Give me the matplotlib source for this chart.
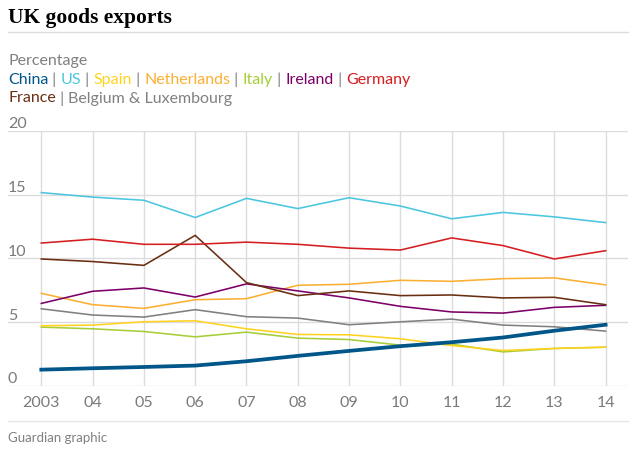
import matplotlib
matplotlib.use("Agg")
import matplotlib.pyplot as plt

years = [2003, 2004, 2005, 2006, 2007, 2008, 2009, 2010, 2011, 2012, 2013, 2014]
year_labels = ["2003", "04", "05", "06", "07", "08", "09", "10", "11", "12", "13", "14"]

china = [1.28, 1.39, 1.49, 1.60, 1.94, 2.36, 2.75, 3.12, 3.43, 3.80, 4.33, 4.80]
us = [15.15, 14.8, 14.55, 13.2, 14.7, 13.9, 14.75, 14.1, 13.1, 13.6, 13.25, 12.8]
spain = [4.72, 4.77, 5.03, 5.11, 4.48, 4.04, 4.01, 3.70, 3.17, 2.78, 2.94, 3.04]
netherlands = [7.26, 6.37, 6.08, 6.76, 6.84, 7.89, 7.97, 8.28, 8.20, 8.41, 8.47, 7.92]
italy = [4.61, 4.48, 4.27, 3.85, 4.22, 3.75, 3.64, 3.20, 3.28, 2.67, 2.94, 3.04]
ireland = [6.47, 7.42, 7.68, 6.97, 8.00, 7.45, 6.90, 6.24, 5.80, 5.71, 6.16, 6.32]
germany = [11.2, 11.5, 11.1, 11.1, 11.27, 11.1, 10.8, 10.65, 11.6, 11.0, 9.95, 10.6]
france = [9.95, 9.75, 9.45, 11.8, 8.10, 7.08, 7.45, 7.08, 7.13, 6.90, 6.95, 6.37]
belgium_lux = [6.05, 5.56, 5.40, 5.98, 5.43, 5.32, 4.80, 5.03, 5.24, 4.77, 4.64, 4.30]

series_names = ["China", "US", "Spain", "Netherlands", "Italy", "Ireland", "Germany",
                "France", "Belgium & Luxembourg"]
y_ticks = [0, 5, 10, 15, 20]

colors = {
    "China": "#005689",
    "US": "#4bc6df",
    "Spain": "#ffd21f",
    "Netherlands": "#fbb033",
    "Italy": "#a6ce39",
    "Ireland": "#7d0068",
    "Germany": "#d61d20",
    "France": "#6a2e12",
    "Belgium & Luxembourg": "#808080",
}
data = {
    "China": china, "US": us, "Spain": spain, "Netherlands": netherlands,
    "Italy": italy, "Ireland": ireland, "Germany": germany, "France": france,
    "Belgium & Luxembourg": belgium_lux,
}

plt.rcParams["font.family"] = ["Lato", "DejaVu Sans"]

W, H = 644, 451
fig = plt.figure(figsize=(W / 100, H / 100), dpi=100)

def fx(px):
    return px / W

def fy(py):
    return 1 - py / H

ax = fig.add_axes([fx(8), fy(386), fx(628) - fx(8), fy(130.7) - fy(386)])
ax.set_xlim(2002.351, 2014.437)
ax.set_ylim(0, 20)
for s in ax.spines.values():
    s.set_visible(False)

grid_c = "#dcdcdc"
for yv in y_ticks:
    ax.axhline(yv, color=grid_c, lw=1.0, zorder=0)
for xv in years:
    ax.plot([xv, xv], [0, 20], color=grid_c, lw=1.0, zorder=0)

order = ["Belgium & Luxembourg", "Italy", "Spain", "Netherlands", "Ireland",
         "France", "Germany", "US", "China"]
for name in order:
    lw = 2.7 if name == "China" else 1.15
    ax.plot(years, data[name], color=colors[name], lw=lw, clip_on=False,
            solid_joinstyle="miter", zorder=3)

tick_c = "#7a7a7a"
ax.set_xticks(years)
ax.set_xticklabels(year_labels)
ax.set_yticks([])
ax.tick_params(axis="x", length=0, pad=7, labelsize=11.5, colors=tick_c)

for yv in y_ticks:
    ax.text(0, yv + 0.2, str(yv), transform=ax.get_yaxis_transform(),
            ha="left", va="baseline", fontsize=11.5, color=tick_c)

# Title and rules
fig.text(fx(8), fy(23.5), "UK goods exports", ha="left", va="baseline",
         fontsize=15.5, fontweight="bold", family="Liberation Serif", color="#000000")
fig.add_artist(plt.Line2D([fx(8), fx(628)], [fy(32.3), fy(32.3)], color="#dcdcdc", lw=1))
fig.add_artist(plt.Line2D([fx(8), fx(628)], [fy(421), fy(421)], color="#e6e6e6", lw=1))

fig.text(fx(8), fy(65.5), "Percentage", ha="left", va="baseline",
         fontsize=11.5, color="#808080")

renderer = fig.canvas.get_renderer()
sep_c = "#808080"

def draw_row(items, y_px):
    x = fx(8)
    for i, name in enumerate(items):
        t = fig.text(x, fy(y_px), name, ha="left", va="baseline", fontsize=11.5,
                     color=colors[name])
        x += t.get_window_extent(renderer=renderer).width / W
        if i < len(items) - 1:
            t2 = fig.text(x, fy(y_px), " | ", ha="left", va="baseline",
                          fontsize=11.5, color=sep_c)
            x += t2.get_window_extent(renderer=renderer).width / W

draw_row(series_names[:7], 84)
draw_row(series_names[7:], 102.5)

fig.text(fx(8), fy(441.5), "Guardian graphic", ha="left", va="baseline",
         fontsize=9.5, color="#808080")

fig.savefig("out.png", dpi=100)
